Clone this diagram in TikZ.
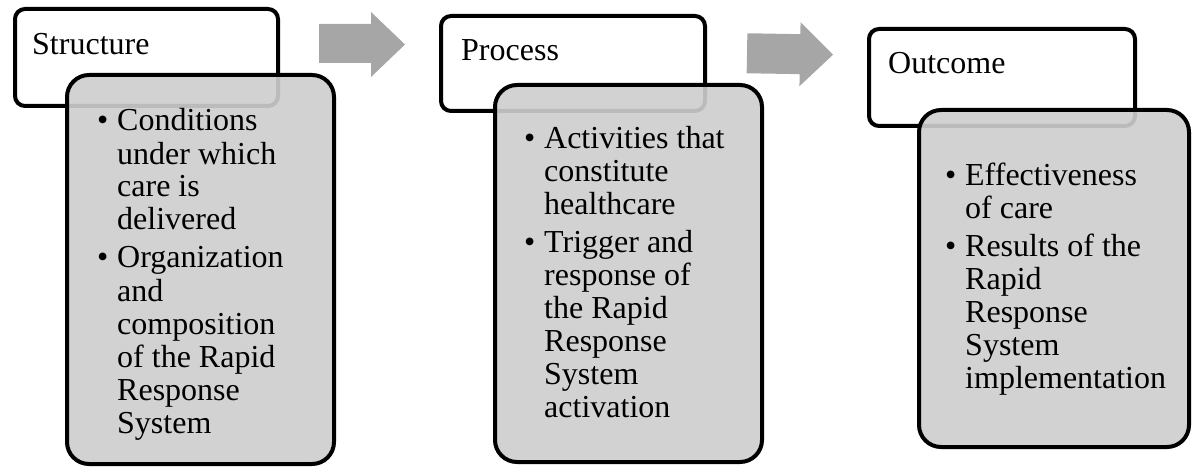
\documentclass[tikz,border=0pt]{standalone}
\usepackage{fontspec}
\setmainfont{Liberation Serif}
\definecolor{boxgray}{RGB}{206,206,206}
\definecolor{arrowgray}{RGB}{166,166,166}
\newcommand{\bodytext}[1]{\begin{minipage}[t]{260pt}\fontsize{32pt}{33pt}\selectfont\raggedright\parskip=5pt #1\end{minipage}}
\newcommand{\bitem}[1]{\par\noindent\hangindent=20pt\hangafter=1\makebox[20pt][l]{•}#1\par}
\tikzset{
  titlebox/.style={rectangle, draw=black, line width=4pt, rounded corners=10pt, fill=white, inner sep=0pt},
  bodybox/.style={rectangle, draw=black, line width=4pt, rounded corners=22pt, fill=boxgray, fill opacity=0.91, inner sep=0pt},
  titletext/.style={anchor=base west, inner sep=0pt, font=\fontsize{32pt}{33pt}\selectfont},
  bodytxt/.style={anchor=base west, inner sep=0pt},
  blockarrow/.style={fill=arrowgray, draw=none}
}
\begin{document}
\begin{tikzpicture}[x=1pt,y=-1pt]
\useasboundingbox (0,0) rectangle (1193,468);
% arrows
\path[blockarrow] (319,24) -- (371,24) -- (371,12) -- (405,44.5) -- (371,77) -- (371,63) -- (319,63) -- cycle;
\begin{scope}[rotate around={-1:(790,54)}]
\path[blockarrow] (747,34) -- (800,34) -- (800,22) -- (833,54) -- (800,86) -- (800,74) -- (747,74) -- cycle;
\end{scope}
% column 1
\node[titlebox, minimum width=263pt, minimum height=97pt] (w1) at (146.5,57.5) {};
\node[bodybox, minimum width=267pt, minimum height=389pt] (g1) at (200.5,269.5) {};
\node[titletext] (t1) at (32,55) {Structure};
\node[bodytxt] (b1) at (97,131) {\bodytext{\bitem{Conditions\newline under which\newline care is\newline delivered}\bitem{Organization\newline and\newline composition\newline of the Rapid\newline Response\newline System}}};
% column 2
\node[titlebox, minimum width=264pt, minimum height=95pt] (w2) at (573,63.5) {};
\node[bodybox, minimum width=267pt, minimum height=377pt] (g2) at (628.5,273.5) {};
\node[titletext] (t2) at (461,61) {Process};
\node[bodytxt] (b2) at (524,148) {\bodytext{\bitem{Activities that\newline constitute\newline healthcare}\bitem{Trigger and\newline response of\newline the Rapid\newline Response\newline System\newline activation}}};
% column 3
\node[titlebox, minimum width=266pt, minimum height=97pt] (w3) at (1002,77.5) {};
\node[bodybox, minimum width=270pt, minimum height=337pt] (g3) at (1054,278.5) {};
\node[titletext] (t3) at (888,74) {Outcome};
\node[bodytxt] (b3) at (945,185) {\bodytext{\bitem{Effectiveness\newline of care}\bitem{Results of the\newline Rapid\newline Response\newline System\newline implementation}}};
\end{tikzpicture}
\end{document}
